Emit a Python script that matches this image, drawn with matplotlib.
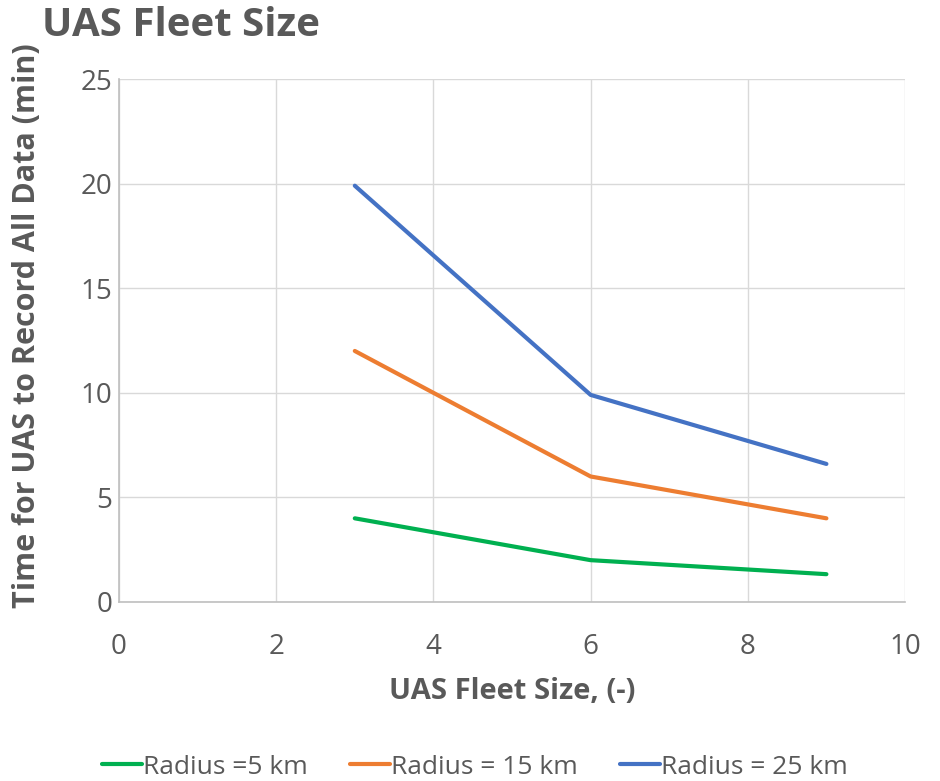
import matplotlib
matplotlib.use("Agg")
import matplotlib.pyplot as plt

# Fleet size vs. time for UAS to record all data
fleet_size = [3, 6, 9]
radius_5 = [4.0, 2.0, 1.33]
radius_15 = [12.0, 6.0, 4.0]
radius_25 = [19.9, 9.9, 6.6]
series_labels = ["Radius =5 km", "Radius = 15 km", "Radius = 25 km"]
series_colors = ["#00B050", "#ED7D31", "#4472C4"]

x_ticks = [0, 2, 4, 6, 8, 10]
y_ticks = [0, 5, 10, 15, 20, 25]

plt.rcParams["font.family"] = ["Open Sans", "DejaVu Sans"]
text_color = "#595959"

fig = plt.figure(figsize=(9.40, 7.81), dpi=100)
ax = fig.add_axes([119 / 940, 1 - 602 / 781, (905 - 119) / 940, (602 - 79) / 781])

for vals, lab, col in zip([radius_5, radius_15, radius_25], series_labels, series_colors):
    ax.plot(fleet_size, vals, color=col, lw=3.0, label=lab, solid_capstyle="round")

ax.set_xlim(0, 10)
ax.set_ylim(0, 25)
ax.set_xticks(x_ticks)
ax.set_yticks(y_ticks)
ax.grid(True, color="#D9D9D9", lw=1.0)
ax.set_axisbelow(True)
for s in ["top", "right"]:
    ax.spines[s].set_visible(False)
for s in ["left", "bottom"]:
    ax.spines[s].set_color("#BFBFBF")
    ax.spines[s].set_linewidth(1.2)
ax.tick_params(length=0, labelsize=20, colors=text_color)
ax.tick_params(axis="y", pad=5)
ax.tick_params(axis="x", pad=22)

ax.set_xlabel("UAS Fleet Size, (-)", fontsize=21, fontweight="bold", color=text_color, labelpad=12)
ax.set_ylabel("Time for UAS to Record All Data (min)", fontsize=22, fontweight="bold",
              color=text_color, va="center")
ax.yaxis.set_label_coords(-0.117, 0.528)

fig.text(42 / 940, 1 - 25 / 781, "UAS Fleet Size", fontsize=29, fontweight="bold",
         color=text_color, va="center", ha="left")

leg = fig.legend(loc="center", bbox_to_anchor=(475 / 940, 1 - 767 / 781), ncol=3, frameon=False,
                 fontsize=19, handlelength=1.5, handletextpad=0.05, columnspacing=1.6)
for t in leg.get_texts():
    t.set_color(text_color)

fig.savefig("out.png", dpi=100)
